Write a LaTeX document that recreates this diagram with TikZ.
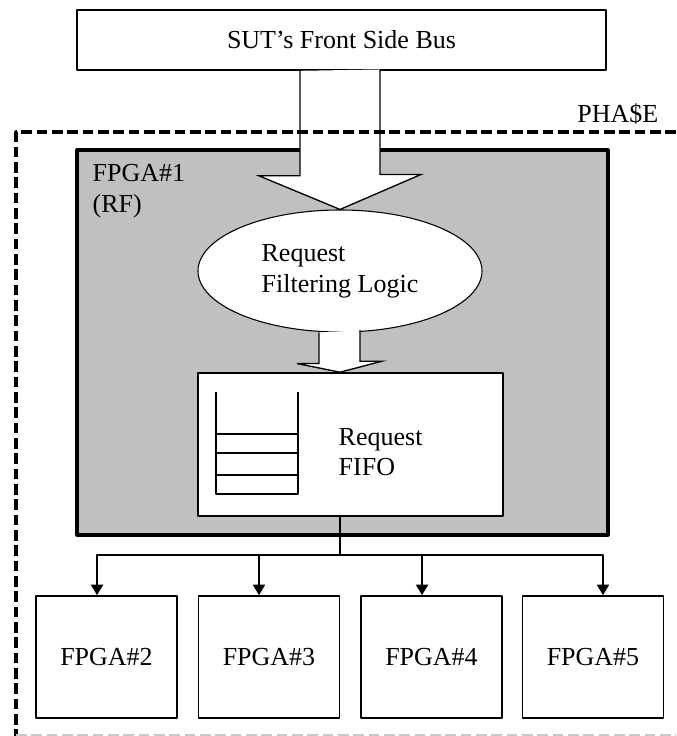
\documentclass[tikz,border=0pt]{standalone}
\usepackage{fontspec}
\setmainfont{Liberation Serif}
\usetikzlibrary{arrows.meta}
\usetikzlibrary{shapes.geometric}

\definecolor{rfgray}{RGB}{192,192,192}
\definecolor{framegray}{RGB}{200,200,200}

\tikzset{
  box/.style={draw,line width=1.2pt,fill=white,inner sep=0pt},
  fpgabox/.style={box,minimum width=105.75pt,minimum height=91.5pt},
  hollow/.style={draw,line width=1pt,fill=white,line join=miter},
  link/.style={line width=1.8pt,->},
  phaseline/.style={line width=2.6pt,dash pattern=on 8pt off 3.5pt},
}

\begin{document}
\begin{tikzpicture}[x=0.75pt,y=-0.75pt,line cap=butt,line join=round,>={Triangle[width=9pt,length=8pt]},
    font=\fontsize{19.5}{23}\selectfont]
      \useasboundingbox (0,0) rectangle (676,736);
      % FPGA#1 and the parts on it
      \node[draw,line width=2.4pt,fill=rfgray,minimum width=398.25pt,minimum height=288.75pt] (fpgaone) at (342.5,342.5) {};
      \node[anchor=north west,align=left] (rflabel) at (88,160) {FPGA\#1\\(RF)};
      \node[box] (bus) at (341.5,40) [minimum width=396.75pt,minimum height=45pt] {SUT’s Front Side Bus};
      \node[box,ellipse,line width=0.8pt,minimum width=213pt,minimum height=91.5pt,align=left] (filter) at (340,271) {Request\\Filtering Logic};
      \node[box,minimum width=228.75pt,minimum height=107.25pt] (fifo) at (350.5,444.5) {};
      \node[anchor=west,align=left] (fifolabel) at (334,452) {Request\\FIFO};
      % stack
      \draw[line width=1.2pt] ([shift={(19,20)}]fifo.north west) -- ++(0,102) -- ++(82,0) -- ++(0,-102);
      \foreach \y in {62,81,103}
        \draw[line width=1.2pt] ([shift={(19,\y)}]fifo.north west) -- ++(82,0);
      % wide arrows
      \coordinate (stemtop) at (filter.north |- bus.south);
      \coordinate (tiptwo) at (filter.south |- fifo.north);
      \draw[hollow] ([xshift=-30pt]stemtop) -- ++(0,105) -- ++(-41,0) -- (filter.north)
        -- ++(81,-35) -- ++(-41,0) -- ++(0,-105);
      \draw[hollow] ([xshift=-15.75pt]filter.south) -- ++(0,31) -- ++(-22,0) -- (tiptwo)
        -- ++(42,-11) -- ++(-22,0) -- ++(0,-31);
      % FPGA#2 .. FPGA#5
      \foreach \n/\x in {2/106.5,3/269,4/431.5,5/593}
        \node[fpgabox] (fpga\n) at (\x,657) {FPGA\#\n};
      \coordinate (split) at (fifo.south -| filter.south);
      \coordinate (fork) at ([yshift=-28.5pt]split);
      \draw[line width=1.2pt] (split) -- (fork);
      \foreach \n/\s in {2/-7.1,3/-7.5,4/-7.1,5/7.5}
        \draw[link] (fork) -| ([xshift=\s pt]fpga\n.north);
      % PHA$E
      \node[anchor=base east] (phase) at (663,122) {PHA\$E};
      \draw[phaseline] (676,132) -- (16,132) -- (16,736);
      \draw[phaseline,line width=1.4pt,framegray] (16,735) -- (676,735);
\end{tikzpicture}
\end{document}
